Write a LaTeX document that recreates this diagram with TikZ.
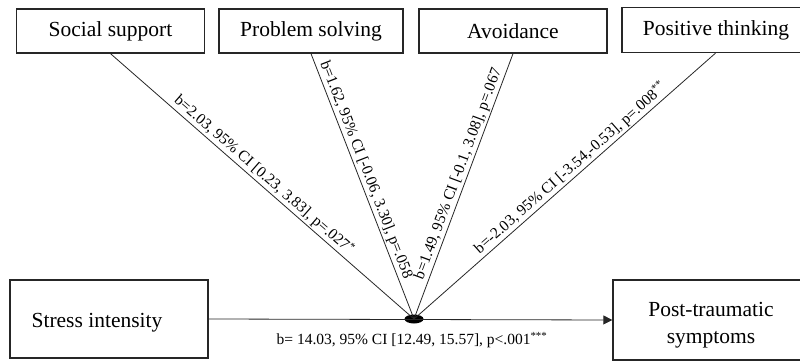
\documentclass[tikz,border=0pt]{standalone}
\usepackage{fontspec}
\setmainfont{Liberation Serif}
\usetikzlibrary{arrows.meta,shapes.geometric}
\begin{document}
\begin{tikzpicture}[x=1pt,y=-1pt,
  box/.style={draw=black!85,line width=1.3pt,rectangle,inner sep=0pt},
  boxtext/.style={font=\fontsize{21.5}{27}\selectfont,inner sep=0pt},
  conn/.style={draw=black!85,line width=0.8pt},
  lab/.style={font=\fontsize{15.5}{18}\selectfont,inner sep=1.5pt}]
\useasboundingbox (0,0) rectangle (800,363);
% top boxes
\node[box,boxtext,minimum width=188pt,minimum height=44pt] (ss) at (110.5,31) {Social support};
\node[box,boxtext,minimum width=184pt,minimum height=44pt] (ps) at (311,31) {Problem solving};
\node[box,boxtext,minimum width=188pt,minimum height=44pt] (av) at (513,31) {Avoidance};
\node[box,minimum width=179pt,minimum height=45pt] (pt) at (711.5,30) {};
\node[boxtext] (pttext) at (716,30) {Positive thinking};
% bottom boxes
\node[box,minimum width=198pt,minimum height=78pt] (si) at (109,319) {};
\node[boxtext] (sitext) at (97,323) {Stress intensity};
\node[box,minimum width=188pt,minimum height=80pt] (pts) at (707,320) {};
\node[boxtext,align=center] (ptstext) at (711,325) {Post-traumatic\\symptoms};
% hub
\node[ellipse,fill=black,minimum width=19pt,minimum height=9pt,inner sep=0pt] (hub) at (414,319) {};
% connectors
\draw[conn] (ss.south) -- node[lab,sloped,above,pos=0.485] (lss) {b=2.03, 95\% CI [0.23, 3.83], p=.027\textsuperscript{*}} (hub.center);
\draw[conn] (ps.south) -- node[lab,sloped,above,pos=0.45] (lps) {b=1.62, 95\% CI [-0.06, 3.30], p=.058} (hub.center);
\draw[conn] (hub.center) -- node[lab,sloped,above,pos=0.535] (lav) {b=1.49, 95\% CI [-0.1, 3.08], p=.067} (av.south);
\draw[conn] (hub.center) -- node[lab,sloped,above,pos=0.54] (lpt) {b=-2.03, 95\% CI [-3.54,-0.53], p=.008\textsuperscript{**}} ([xshift=4pt]pt.south);
\draw[conn,-{Triangle[length=9pt,width=9pt]}] (si.east) -- (pts.west);
\node[lab] (lsi) at (412,340) {b= 14.03, 95\% CI [12.49, 15.57], p<.001\textsuperscript{***}};
\end{tikzpicture}
\end{document}
